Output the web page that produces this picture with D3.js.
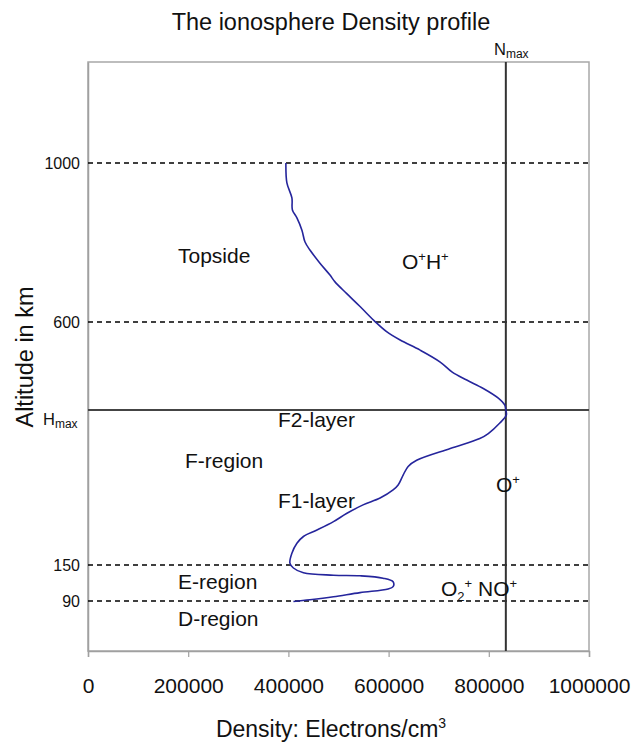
<!DOCTYPE html>
<html><head><meta charset="utf-8">
<script src="https://cdn.jsdelivr.net/npm/d3@7"></script>
<style>
body{margin:0;background:#fff}
text{font-family:"Liberation Sans",Arial,Helvetica,sans-serif;fill:#111}
</style>
</head><body>
<svg id="chart" width="633" height="742"></svg>
<script>
// ---------- data ----------
const chartTitle = "The ionosphere Density profile";
const xTickValues = [0, 200000, 400000, 600000, 800000, 1000000];
const xTickLabels = ["0", "200000", "400000", "600000", "800000", "1000000"];
const yTickValues = [1000, 600, 150, 90];
const yTickLabels = ["1000", "600", "150", "90"];
const Nmax = 834000;      // electrons/cm3 at the peak
const Hmax = 400;         // km, height of the peak (schematic)
// electron density profile (electrons/cm3) vs altitude (km)
const density = [395000, 397000, 407000, 408000, 417000, 427000, 433000, 443000, 463000, 483000,
  493000, 516000, 543000, 573000, 596000, 623000, 663000, 703000, 727000, 756000,
  789000, 819000, 832000, 834000, 835000, 822000, 799000, 782000, 723000, 656000,
  639000, 629000, 619000, 609000, 583000, 549000, 516000, 490000, 456000, 430000,
  417000, 407000, 403000, 410000, 430000, 490000, 543000, 589000, 609000, 609000,
  599000, 543000, 490000, 443000, 410000];
const altitude = [1000, 950, 912, 882, 862, 831, 802, 781, 748, 718,
  701, 672, 639, 601, 578, 559, 536, 509, 486, 468,
  449, 427, 411, 400, 392, 379, 362, 354, 338, 319,
  309, 295, 279, 271, 258, 247, 233, 220, 206, 196,
  185, 169, 153, 145, 137, 133, 132, 128, 122, 114,
  110, 104, 97, 92, 89];
// schematic (non-linear) altitude axis break points, km
const altitudeBreaks = [0, 90, 150, 400, 600, 1000, 1250];

// ---------- layout ----------
const L = 88, R = 589, T = 62, B = 651;
const breakPos = [B, 601, 565, 410, 322, 163, T];

const svg = d3.select("#chart");
const x = d3.scaleLinear().domain([0, 1000000]).range([L, R]);
const y = d3.scaleLinear().domain(altitudeBreaks).range(breakPos);

// plot frame
svg.append("rect").attr("x", L).attr("y", T).attr("width", R - L).attr("height", B - T)
  .attr("fill", "none").attr("stroke", "#a8a8a8").attr("stroke-width", 1.5);

// x axis
const xAxis = d3.axisBottom(x).tickValues(xTickValues).tickSize(6)
  .tickFormat((d, i) => xTickLabels[i]);
const gx = svg.append("g").attr("transform", `translate(0,${B})`).call(xAxis);
gx.select(".domain").attr("stroke", "#a0a0a0").attr("stroke-width", 1.5);
gx.selectAll(".tick line").attr("stroke", "#a0a0a0").attr("stroke-width", 1.2);
gx.selectAll(".tick text").attr("font-size", "21px").attr("dy", null).attr("y", 42)
  .attr("font-family", '"Liberation Sans",Arial,sans-serif').attr("fill", "#111");

// y axis (labels only, lines drawn as dashed guides)
const yAxis = d3.axisLeft(y).tickValues(yTickValues).tickSize(0)
  .tickFormat((d, i) => yTickLabels[i]);
const gy = svg.append("g").attr("transform", `translate(${L},0)`).call(yAxis);
gy.select(".domain").attr("stroke", "#a0a0a0").attr("stroke-width", 1.5);
gy.selectAll(".tick text").attr("font-size", "16px").attr("x", -8)
  .attr("font-family", '"Liberation Sans",Arial,sans-serif').attr("fill", "#111");

// dashed boundary lines
svg.append("g").selectAll("line").data(yTickValues).join("line")
  .attr("x1", L).attr("x2", R).attr("y1", d => y(d)).attr("y2", d => y(d))
  .attr("stroke", "#000").attr("stroke-width", 1.4).attr("stroke-dasharray", "5,4");

// Hmax and Nmax lines
svg.append("line").attr("x1", L).attr("x2", R).attr("y1", y(Hmax)).attr("y2", y(Hmax))
  .attr("stroke", "#444").attr("stroke-width", 2);
svg.append("line").attr("x1", x(Nmax)).attr("x2", x(Nmax)).attr("y1", T).attr("y2", B)
  .attr("stroke", "#333").attr("stroke-width", 2);

// profile curve
const pts = density.map((d, i) => [d, altitude[i]]);
svg.append("path").datum(pts)
  .attr("d", d3.line().x(d => x(d[0])).y(d => y(d[1])).curve(d3.curveCatmullRom.alpha(0.5)))
  .attr("fill", "none").attr("stroke", "#25259c").attr("stroke-width", 1.6);

// title
svg.append("text").attr("x", 331).attr("y", 30).attr("text-anchor", "middle")
  .attr("font-size", "23.5px").text(chartTitle);

// Nmax label
const nl = svg.append("text").attr("x", 494).attr("y", 55).attr("font-size", "16.5px");
nl.append("tspan").text("N");
nl.append("tspan").attr("font-size", "12px").attr("dy", 3).text("max");

// Hmax label
const hl = svg.append("text").attr("x", 43).attr("y", 425).attr("font-size", "16.5px");
hl.append("tspan").text("H");
hl.append("tspan").attr("font-size", "12px").attr("dy", 3).text("max");

// axis titles
const xt = svg.append("text").attr("x", 331).attr("y", 737).attr("text-anchor", "middle")
  .attr("font-size", "23px");
xt.append("tspan").text("Density: Electrons/cm");
xt.append("tspan").attr("font-size", "14px").attr("dy", -9).text("3");

svg.append("text").attr("transform", `translate(33,357) rotate(-90)`)
  .attr("text-anchor", "middle").attr("font-size", "23.5px").text("Altitude in km");

// region / ion labels
const labelFont = "21px";
function label(px, py, parts) {
  const t = svg.append("text").attr("x", px).attr("y", py).attr("font-size", labelFont);
  let shift = 0;
  parts.forEach(p => {
    const s = t.append("tspan").text(p.t);
    const target = p.sup ? -8 : p.sub ? 5 : 0;
    if (p.sup || p.sub) s.attr("font-size", "13px");
    if (target !== shift) { s.attr("dy", target - shift); shift = target; }
  });
}
label(178, 263, [{t: "Topside"}]);
label(402, 269, [{t: "O"}, {t: "+", sup: true}, {t: "H"}, {t: "+", sup: true}]);
label(278, 427, [{t: "F2-layer"}]);
label(185, 468, [{t: "F-region"}]);
label(278, 508, [{t: "F1-layer"}]);
label(496, 492, [{t: "O"}, {t: "+", sup: true}]);
label(178, 589, [{t: "E-region"}]);
label(441, 596, [{t: "O"}, {t: "2", sub: true}, {t: "+", sup: true}, {t: " NO"}, {t: "+", sup: true}]);
label(178, 626, [{t: "D-region"}]);
</script>
</body></html>
